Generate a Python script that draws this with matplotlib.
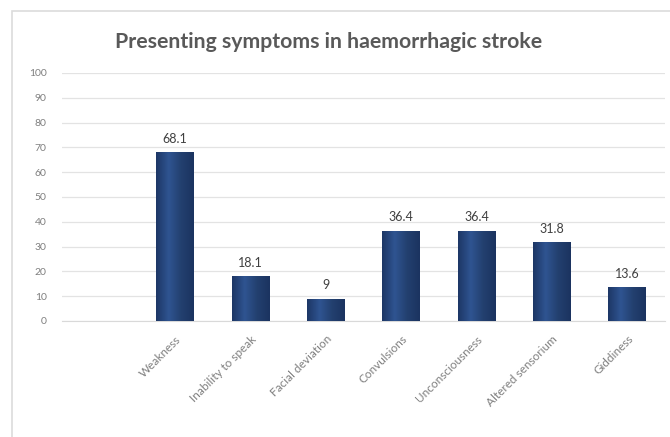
import numpy as np
import matplotlib.pyplot as plt
from matplotlib.patches import Rectangle
from matplotlib.colors import LinearSegmentedColormap

categories = ["", "Weakness", "Inability to speak", "Facial deviation", "Convulsions",
              "Unconsciousness", "Altered sensorium", "Giddiness"]
values = [None, 68.1, 18.1, 9, 36.4, 36.4, 31.8, 13.6]
labels = ["", "68.1", "18.1", "9", "36.4", "36.4", "31.8", "13.6"]
yticks = list(range(0, 101, 10))

plt.rcParams['font.family'] = ['Lato', 'DejaVu Sans']

fig = plt.figure(figsize=(6.7, 4.37), dpi=100)
fig.patch.set_facecolor('white')

# light frame around the chart area
fig.patches.append(Rectangle((12 / 670, -0.05), 1.2, (437 - 11) / 437 + 0.05,
                             transform=fig.transFigure, fill=False,
                             edgecolor='#dcdcdc', linewidth=1.2))

ax = fig.add_axes([62 / 670, 1 - 321 / 437, 603 / 670, (321 - 73) / 437])
ax.set_xlim(-0.5, len(categories) - 0.5)
ax.set_ylim(0, 100)
ax.set_yticks(yticks)
ax.set_yticklabels([str(t) for t in yticks], fontsize=7.5, color='#7f7f7f')
ax.yaxis.grid(True, color='#e3e3e3', linewidth=0.9)
ax.set_axisbelow(True)
for s in ['top', 'right', 'left']:
    ax.spines[s].set_visible(False)
ax.spines['bottom'].set_color('#d9d9d9')
ax.tick_params(axis='y', length=0, pad=11)

# horizontal gradient for the bar fill
cmap = LinearSegmentedColormap.from_list('bar', ['#1d3766', '#2f5491', '#23406f', '#1b3360'])
grad = np.linspace(0, 1, 64).reshape(1, -1)
width = 0.5
for i, (v, lab) in enumerate(zip(values, labels)):
    if v is None:
        continue
    bar = ax.bar(i, v, width=width, color='#264478', edgecolor='none', zorder=2)[0]
    im = ax.imshow(grad, cmap=cmap, aspect='auto',
                   extent=(i - width / 2, i + width / 2, 0, v), zorder=3)
    im.set_clip_path(bar)
    ax.text(i, v + 3, lab, ha='center', va='bottom', fontsize=9, color='#404040')

ax.set_xticks(range(len(categories)))
ax.set_xticklabels(categories, rotation=45, ha='right', rotation_mode='anchor',
                   fontsize=8.5, color='#7f7f7f')
ax.tick_params(axis='x', length=0, pad=9)
ax.set_xlim(-0.5, len(categories) - 0.5)
ax.set_ylim(0, 100)

fig.text(0.49, 1 - 42 / 437, "Presenting symptoms in haemorrhagic stroke",
         ha='center', va='center', fontsize=15.3, fontweight='bold', color='#595959')

fig.savefig('out.png', dpi=100)
